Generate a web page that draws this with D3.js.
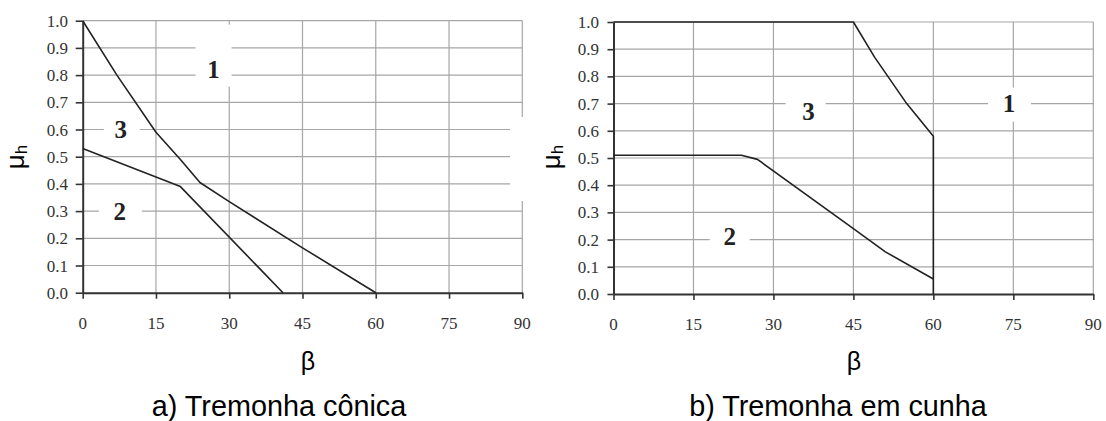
<!DOCTYPE html>
<html>
<head>
<meta charset="utf-8">
<script src="https://cdn.jsdelivr.net/npm/d3@7"></script>
<style>
  html, body { margin: 0; padding: 0; background: #fff; }
  svg { display: block; }
  .ticklab { font-family: 'Liberation Serif', 'Times New Roman', serif; font-size: 17px; fill: #333; }
</style>
</head>
<body>
<svg id="chart" width="1106" height="421"></svg>
<script>
// ---------- data ----------
const xTicks = [0, 15, 30, 45, 60, 75, 90];
const yTicks = [0, 0.1, 0.2, 0.3, 0.4, 0.5, 0.6, 0.7, 0.8, 0.9, 1.0];

// a) Tremonha cônica
const conicUpperBeta = [0, 7, 15, 20, 24, 30, 45, 60];
const conicUpperMu   = [1.0, 0.80, 0.59, 0.49, 0.405, 0.335, 0.165, 0.0];
const conicLowerBeta = [0, 20, 41];
const conicLowerMu   = [0.53, 0.39, 0.0];
const conicLabels     = ["1", "3", "2"];
const conicLabelBeta  = [26.8, 7.8, 7.6];
const conicLabelMu    = [0.82, 0.60, 0.30];

// b) Tremonha em cunha
const wedgeUpperBeta = [0, 45, 49, 55, 60, 60];
const wedgeUpperMu   = [1.0, 1.0, 0.87, 0.70, 0.58, 0.0];
const wedgeLowerBeta = [0, 24, 27, 45, 51, 60];
const wedgeLowerMu   = [0.51, 0.51, 0.495, 0.24, 0.155, 0.055];
const wedgeLabels     = ["3", "1", "2"];
const wedgeLabelBeta  = [36.6, 74.2, 21.8];
const wedgeLabelMu    = [0.67, 0.70, 0.21];

const xLabel = "β";
const yLabel = "μ";
const yLabelSub = "h";
const captions = ["a) Tremonha cônica", "b) Tremonha em cunha"];

// ---------- drawing ----------
const SERIF = "'Liberation Serif', 'Times New Roman', serif";
const SANS = "'Liberation Sans', Arial, sans-serif";
const svg = d3.select("#chart");
svg.append("rect").attr("width", 1106).attr("height", 421).attr("fill", "#fff");

const panels = [
  {
    left: 82.7, right: 522.3, top: 20.7, bottom: 292.7,
    lines: [[conicUpperBeta, conicUpperMu], [conicLowerBeta, conicLowerMu]],
    labels: conicLabels, lb: conicLabelBeta, lm: conicLabelMu,
    boxes: [[-18, -45, 36, 62], [-17, -14, 36, 30], [-21, -14, 43, 30]],
    caption: captions[0], capX: 279, betaX: 308, yLabX: 16, tickSizeY: 7, yLabRight: 68,
    extraWhite: [[510, 117, 14, 84]]
  },
  {
    left: 613.5, right: 1093.3, top: 22, bottom: 294,
    lines: [[wedgeUpperBeta, wedgeUpperMu], [wedgeLowerBeta, wedgeLowerMu]],
    labels: wedgeLabels, lb: wedgeLabelBeta, lm: wedgeLabelMu,
    boxes: [[-23, -14, 40, 30], [-21, -16, 43, 34], [-20, -14, 40, 30]],
    caption: captions[1], capX: 838, betaX: 854, yLabX: 552, tickSizeY: 6, yLabRight: 599,
    extraWhite: []
  }
];

panels.forEach(p => {
  const x = d3.scaleLinear().domain([0, 90]).range([p.left, p.right]);
  const y = d3.scaleLinear().domain([0, 1]).range([p.bottom, p.top]);
  const g = svg.append("g");

  // grid
  g.append("g").selectAll("line").data(yTicks.filter(d => d > 0)).join("line")
    .attr("x1", p.left).attr("x2", p.right)
    .attr("y1", d => y(d)).attr("y2", d => y(d))
    .attr("stroke", "#a6a6a6").attr("stroke-width", 1.2);
  g.append("g").selectAll("line").data(xTicks.filter(d => d > 0)).join("line")
    .attr("x1", d => x(d)).attr("x2", d => x(d))
    .attr("y1", p.top).attr("y2", p.bottom)
    .attr("stroke", "#a6a6a6").attr("stroke-width", 1.2);

  // label boxes hide grid
  p.labels.forEach((t, i) => {
    const b = p.boxes[i];
    g.append("rect")
      .attr("x", x(p.lb[i]) + b[0]).attr("y", y(p.lm[i]) + b[1])
      .attr("width", b[2]).attr("height", b[3]).attr("fill", "#fff");
  });
  p.extraWhite.forEach(r => {
    g.append("rect").attr("x", r[0]).attr("y", r[1]).attr("width", r[2]).attr("height", r[3]).attr("fill", "#fff");
  });

  // axes (lines + tick marks)
  const ax = g.append("g").attr("transform", `translate(0,${p.bottom})`)
    .call(d3.axisBottom(x).tickValues(xTicks).tickSize(6).tickSizeOuter(0).tickFormat(() => ""));
  const ay = g.append("g").attr("transform", `translate(${p.left},0)`)
    .call(d3.axisLeft(y).tickValues(yTicks).tickSize(p.tickSizeY).tickSizeOuter(0).tickFormat(() => ""));
  [ax, ay].forEach(a => {
    a.select(".domain").attr("stroke", "#333").attr("stroke-width", 2);
    a.selectAll(".tick line").attr("stroke", "#333").attr("stroke-width", 1.6);
  });

  // tick labels
  const fmt = d3.format(".1f");
  g.append("g").selectAll("text").data(xTicks).join("text")
    .attr("class", "ticklab")
    .attr("x", d => x(d)).attr("y", p.bottom + 36)
    .attr("text-anchor", "middle")
    .text(d => d);
  g.append("g").selectAll("text").data(yTicks).join("text")
    .attr("class", "ticklab")
    .attr("x", p.yLabRight).attr("y", d => y(d) + 6)
    .attr("text-anchor", "end")
    .text(d => fmt(d));

  // data lines
  const line = d3.line().x(d => x(d[0])).y(d => y(d[1]));
  p.lines.forEach(([bs, ms]) => {
    g.append("path").datum(bs.map((b, i) => [b, ms[i]]))
      .attr("d", line).attr("fill", "none")
      .attr("stroke", "#222").attr("stroke-width", 1.6)
      .attr("stroke-linejoin", "round");
  });

  // region labels
  p.labels.forEach((t, i) => {
    g.append("text").attr("x", x(p.lb[i])).attr("y", y(p.lm[i]))
      .attr("text-anchor", "middle").attr("dominant-baseline", "central")
      .style("font-family", SERIF)
      .attr("font-weight", "bold").style("font-size", "25px").attr("fill", "#222")
      .text(t);
  });

  // axis titles
  g.append("text").attr("x", p.betaX).attr("y", 370)
    .attr("text-anchor", "middle")
    .style("font-family", SANS)
    .style("font-size", "25px").attr("fill", "#000").text(xLabel);

  const yl = g.append("text")
    .attr("transform", `translate(${p.yLabX + 8},157) rotate(-90)`)
    .attr("text-anchor", "middle")
    .style("font-family", SANS)
    .style("font-size", "26px").attr("fill", "#000");
  yl.append("tspan").text(yLabel);
  yl.append("tspan").style("font-size", "17px").attr("dy", 3).text(yLabelSub);

  g.append("text").attr("x", p.capX).attr("y", 416)
    .attr("text-anchor", "middle")
    .style("font-family", SANS)
    .style("font-size", "28.8px").attr("fill", "#000").text(p.caption);
});
</script>
</body>
</html>
